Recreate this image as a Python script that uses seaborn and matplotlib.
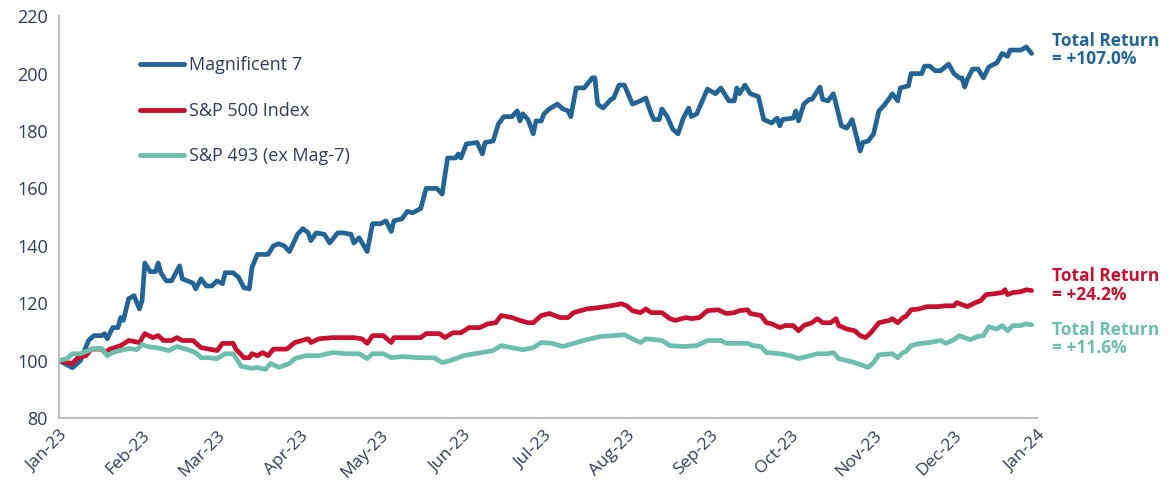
import matplotlib

matplotlib.use("Agg")

import matplotlib.dates as mdates
import matplotlib.pyplot as plt
import pandas as pd
import seaborn as sns

# days since 1 Jan 2023, index level (start = 100)
mag7_day = [0, 5, 8, 11, 13, 16, 17, 18, 20, 22, 23, 24, 26, 28, 30, 31, 32, 34, 36, 37,
            38, 40, 42, 45, 46, 50, 51, 53, 55, 57, 59, 61, 62, 65, 67, 69, 71, 72, 74, 78,
            80, 82, 84, 86, 89, 91, 93, 94, 96, 99, 101, 104, 106, 109, 110, 112, 115, 117, 120, 122,
            124, 125, 128, 130, 132, 135, 137, 140, 141, 143, 145, 148, 149, 150, 152, 156, 158, 159, 162, 164,
            166, 169, 171, 172, 173, 175, 177, 178, 180, 181, 183, 186, 188, 190, 191, 193, 196, 199, 200, 201,
            203, 206, 207, 209, 211, 214, 217, 219, 221, 222, 224, 225, 227, 229, 231, 233, 235, 236, 238, 242,
            245, 247, 249, 250, 252, 253, 254, 256, 258, 261, 263, 266, 268, 269, 270, 274, 275, 276, 278, 280,
            281, 284, 285, 287, 289, 290, 292, 294, 296, 299, 300, 302, 304, 306, 308, 310, 311, 313, 314, 317,
            318, 322, 323, 325, 327, 329, 332, 334, 336, 337, 338, 339, 341, 343, 345, 347, 349, 350, 352, 354,
            355, 359, 361, 363]
mag7 = [100, 97.5, 100, 107, 108.7, 108.7, 109.4, 107.6, 111.5, 111.5, 115, 114, 121.6, 122.6, 118, 121, 134, 131, 131, 134,
        130.6, 127.8, 127.8, 133, 128.5, 127, 125, 128.5, 126, 126, 127.8, 126.8, 130.6, 130.6, 129, 125.4, 125, 132.4, 137, 137,
        140, 140.7, 140, 138, 144, 146, 144.5, 141.8, 144.5, 144, 141, 144.5, 144.5, 144, 141, 142.8, 138, 147.7, 147.7, 148.7,
        145, 148.7, 149.4, 152, 151.5, 153, 160, 160, 160, 158, 170.6, 170.6, 172, 170.6, 175.5, 176, 172, 176, 176.5, 182.5,
        185, 185, 187, 183.5, 186, 184, 179, 183.5, 183.5, 186, 187.7, 189.4, 187.7, 187, 185, 195, 195, 198.5, 198.5, 189.4,
        188, 191, 191.5, 196, 196, 189.4, 190.5, 191.5, 186, 184, 184, 187.7, 185, 180.7, 179, 184.5, 188, 185, 186, 194.6,
        193, 195, 192, 190.5, 190.5, 195, 193, 196, 193, 192, 184, 182.8, 184.5, 181.8, 184, 184.5, 187, 183.5, 189.4, 191,
        191, 195.3, 191, 190.5, 193, 189.4, 181.8, 181, 184, 173, 176, 176.5, 179, 187, 189, 191.5, 193, 190.5, 195, 195.7,
        200, 200, 202.6, 202.6, 201, 201, 203.3, 200, 198.5, 198.5, 195.3, 198, 201.6, 201.6, 198.5, 202.3, 203.3, 203.7, 207, 206,
        208.2, 208.2, 209.3, 207]

spx_day = [0, 3, 5, 7, 10, 12, 16, 17, 19, 23, 26, 30, 32, 35, 37, 39, 42, 44, 46, 50,
           53, 56, 59, 61, 65, 66, 69, 71, 72, 74, 76, 78, 80, 85, 88, 93, 94, 97, 102, 110,
           113, 115, 117, 121, 124, 125, 135, 137, 142, 144, 147, 150, 153, 157, 160, 163, 165, 169, 172, 175,
           177, 180, 183, 187, 190, 192, 197, 201, 206, 210, 212, 214, 217, 219, 221, 225, 228, 230, 234, 236,
           239, 242, 246, 249, 252, 254, 257, 258, 262, 264, 266, 269, 271, 274, 276, 278, 281, 283, 285, 288,
           290, 291, 294, 297, 299, 301, 303, 306, 310, 311, 313, 315, 316, 318, 321, 324, 328, 331, 334, 335,
           339, 342, 344, 346, 349, 352, 353, 354, 356, 359, 361, 363]
spx = [100, 99.3, 99, 101, 101.7, 104, 104, 102.8, 104, 105.2, 107, 106.3, 109.4, 108, 108.7, 107, 107, 108, 107, 107,
       104.5, 104, 103.5, 106, 106, 104, 101, 101, 102.4, 101.7, 102.8, 101.7, 104, 104, 106.3, 107.6, 106.3, 107.6, 108, 108,
       107.6, 106, 108.7, 108.7, 106.3, 108, 108, 109.4, 109.4, 108, 109.7, 109.7, 111.5, 111.5, 112.8, 113.2, 115.7, 115, 114, 113.2,
       113.2, 115.7, 116.4, 115, 115, 116.7, 118, 118.4, 119.1, 119.8, 119, 117.4, 116.7, 118, 116.7, 116.7, 114.6, 114, 115, 114.6,
       115, 117.4, 117.7, 116.4, 116.7, 117.4, 117.7, 116.4, 115.7, 113.2, 112.8, 111.5, 112.2, 112.2, 110.4, 112.2, 113.2, 114.6, 113.2, 113.2,
       114.6, 112.2, 111, 110.4, 108.7, 108, 109.7, 113.2, 114, 114.6, 113.2, 115, 115.3, 117.7, 118, 118.8, 118.8, 119.1, 119.1, 120.2,
       118.8, 120.2, 120.9, 123, 123.3, 123.7, 124.7, 123, 123.7, 124, 124.7, 124.4]

spx493_day = [0, 3, 5, 8, 11, 13, 16, 18, 20, 24, 26, 29, 31, 33, 36, 38, 41, 44, 48, 51,
              53, 56, 59, 62, 65, 68, 72, 74, 77, 79, 82, 86, 88, 92, 97, 102, 107, 112, 115, 117,
              121, 124, 128, 135, 140, 143, 146, 151, 155, 158, 162, 165, 169, 173, 177, 180, 184, 188, 192, 197,
              202, 207, 211, 214, 217, 219, 225, 228, 233, 238, 242, 247, 249, 257, 259, 262, 264, 269, 273, 276,
              279, 283, 287, 289, 291, 294, 297, 300, 302, 304, 306, 311, 313, 315, 316, 318, 321, 325, 329, 331,
              334, 336, 340, 343, 345, 347, 350, 352, 354, 356, 359, 361, 363]
spx493 = [100, 100.7, 102.4, 102.4, 103.5, 104.2, 104.2, 101.7, 102.8, 103.8, 104.2, 103.8, 105.6, 104.9, 104.5, 104.2, 103.5, 104.9, 103.8, 102.8,
          101, 101, 100.7, 102.4, 102.4, 98, 97.3, 97.6, 96.9, 99, 97.6, 99, 100.7, 101.7, 101.7, 102.8, 102.4, 102.4, 100.7, 102.4,
          102.4, 101, 101.4, 101, 101, 99.3, 100, 101.7, 102.4, 102.8, 103.5, 105.2, 104.5, 103.8, 104.5, 106.3, 106, 104.9, 106, 107.3,
          108.4, 108.7, 109, 107.6, 106.3, 107.6, 107, 105.2, 104.9, 105.2, 107, 107, 106, 106, 105.2, 104.9, 102.8, 102.4, 101.7, 100.7,
          101.4, 102.4, 102.4, 102.8, 100.7, 100, 99.3, 98.3, 97.6, 99.3, 102, 102.4, 101, 102.8, 103.1, 105.2, 105.9, 106.3, 107, 106,
          107.3, 108.7, 107.3, 108.4, 108.7, 111.8, 111, 112.2, 110.4, 112.2, 112.2, 112.8, 112.5]

series_names = ["Magnificent 7", "S&P 500 Index", "S&P 493 (ex Mag-7)"]
return_labels = ["Total Return\n= +107.0%", "Total Return\n= +24.2%", "Total Return\n= +11.6%"]
colors = ["#236497", "#C8102E", "#6CBFAC"]
text_color = "#2F3B63"
spine_color = "#BFBFBF"

start = pd.Timestamp("2023-01-01")
frames = []
for name, days, vals in zip(series_names, [mag7_day, spx_day, spx493_day], [mag7, spx, spx493]):
    frames.append(pd.DataFrame({
        "date": start + pd.to_timedelta(days, unit="D"),
        "value": vals,
        "series": name,
    }))
df = pd.concat(frames, ignore_index=True)

sns.set_style("white")
plt.rcParams["font.family"] = ["Open Sans", "DejaVu Sans"]

fig = plt.figure(figsize=(11.74, 4.91), dpi=100)
ax = fig.add_axes([0.0503, 0.1487, 0.8330, 0.8183])

sns.lineplot(data=df, x="date", y="value", hue="series", hue_order=series_names,
             palette=colors, linewidth=3.4, ax=ax, estimator=None, sort=True)

ax.set_xlim(pd.Timestamp("2023-01-01"), pd.Timestamp("2024-01-01"))
ax.set_ylim(80, 220)
ax.set_yticks(range(80, 221, 20))
ax.xaxis.set_major_locator(mdates.MonthLocator())
ax.xaxis.set_major_formatter(mdates.DateFormatter("%b-%y"))
ax.set_xlabel("")
ax.set_ylabel("")

for side in ["top", "right"]:
    ax.spines[side].set_visible(False)
for side in ["left", "bottom"]:
    ax.spines[side].set_color(spine_color)
    ax.spines[side].set_linewidth(1.5)

ax.tick_params(axis="y", length=0, labelsize=13, labelcolor=text_color, pad=8)
ax.tick_params(axis="x", length=5, width=1.2, color=spine_color, direction="out",
               labelsize=12.5, labelcolor=text_color, pad=2)
plt.setp(ax.get_xticklabels(), rotation=45, ha="right", rotation_mode="anchor")

leg = ax.legend(loc="upper left", bbox_to_anchor=(0.083, 0.90), frameon=False,
                fontsize=13, handlelength=2.4, handletextpad=0.3, labelspacing=1.52,
                borderaxespad=0, borderpad=0)
for t in leg.get_texts():
    t.set_color(text_color)
for h in leg.get_lines():
    h.set_linewidth(3.5)

label_y = [0.898, 0.4185, 0.3096]
for lab, col, yy in zip(return_labels, colors, label_y):
    fig.text(0.8965, yy, lab, color=col, fontsize=12.5, fontweight="bold",
             ha="left", va="center", linespacing=1.05)

fig.savefig("out.png", dpi=100)
